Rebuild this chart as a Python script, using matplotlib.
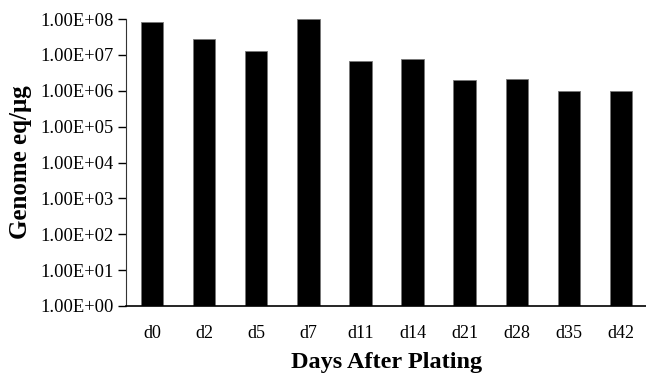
import matplotlib
matplotlib.use('Agg')
import matplotlib.pyplot as plt
import numpy as np
from matplotlib.ticker import FixedLocator, FuncFormatter

days = ['d0', 'd2', 'd5', 'd7', 'd11', 'd14', 'd21', 'd28', 'd35', 'd42']
genome_eq = [8.4e7, 2.7e7, 1.3e7, 1.02e8, 6.6e6, 7.7e6, 1.95e6, 2.15e6, 9.7e5, 1.0e6]
y_ticks = [1e0, 1e1, 1e2, 1e3, 1e4, 1e5, 1e6, 1e7, 1e8]

plt.rcParams['font.family'] = ['Liberation Serif', 'DejaVu Serif']

fig = plt.figure(figsize=(6.46, 3.74), dpi=100)
ax = fig.add_axes([126 / 646, 1 - 306 / 374, 521 / 646, 287 / 374])

x = np.arange(len(days))
ax.bar(x, genome_eq, width=0.43, color='black', edgecolor='#777777', linewidth=0.6)

ax.set_yscale('log')
ax.set_ylim(1, 1e8)
ax.set_xlim(-0.5, len(days) - 0.5)
ax.yaxis.set_major_locator(FixedLocator(y_ticks))
ax.yaxis.set_minor_locator(FixedLocator([]))
ax.yaxis.set_major_formatter(FuncFormatter(lambda v, p: '1.00E+%02d' % round(np.log10(v))))
ax.set_xticks(x)
ax.set_xticklabels(days)

ax.tick_params(axis='y', direction='out', length=6, width=1, labelsize=13.3, pad=3)
ax.tick_params(axis='x', length=0, labelsize=13, pad=14)

for side in ['top', 'right']:
    ax.spines[side].set_visible(False)
ax.spines['left'].set_color('#333333')
ax.spines['bottom'].set_color('black')
ax.spines['bottom'].set_linewidth(1.2)

ax.set_ylabel('Genome eq/\u03bcg', fontsize=18, fontweight='bold', labelpad=6)
ax.set_xlabel('Days After Plating', fontsize=17.5, fontweight='bold', labelpad=7)

fig.savefig('out.png', dpi=100)
